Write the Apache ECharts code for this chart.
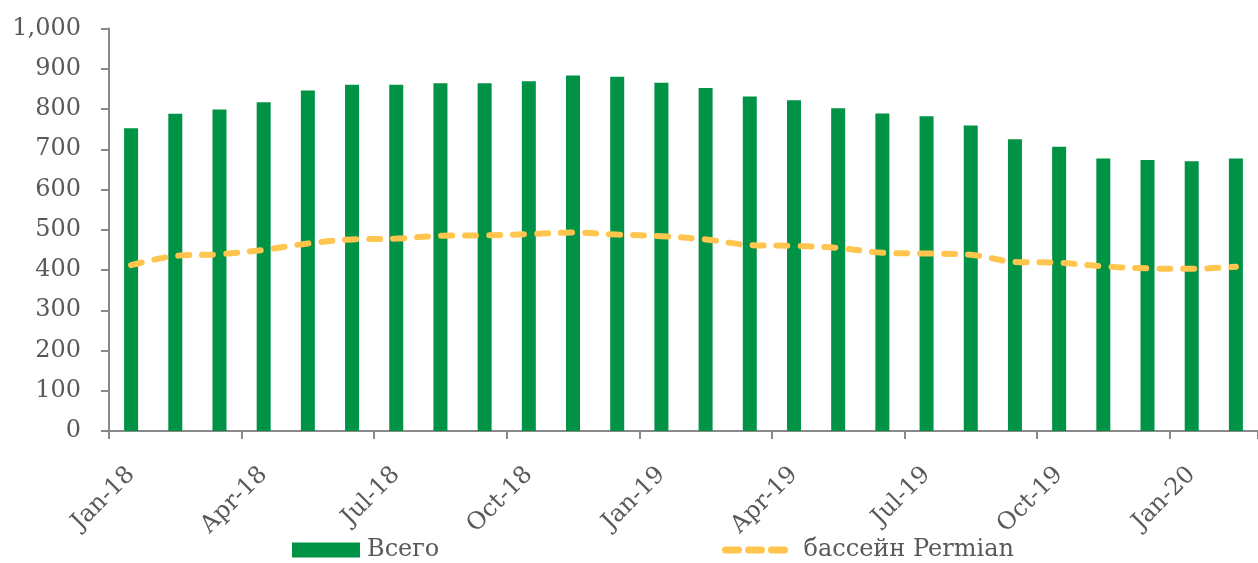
<!DOCTYPE html>
<html>
<head>
<meta charset="utf-8">
<script src="https://cdn.jsdelivr.net/npm/echarts@6/dist/echarts.min.js"></script>
<style>
html,body{margin:0;padding:0;background:#fff;}
#chart{width:1258px;height:563px;}
</style>
</head>
<body>
<div id="chart"></div>
<script>
const categories = ['Jan-18','Feb-18','Mar-18','Apr-18','May-18','Jun-18','Jul-18','Aug-18','Sep-18','Oct-18','Nov-18','Dec-18',
  'Jan-19','Feb-19','Mar-19','Apr-19','May-19','Jun-19','Jul-19','Aug-19','Sep-19','Oct-19','Nov-19','Dec-19',
  'Jan-20','Feb-20'];
const totalValues = [752,788,799,817,846,860,860,864,864,869,883,880,865,852,831,822,802,789,782,759,725,706,677,673,670,677];
const permianValues = [412,435,439,450,466,476,478,485,486,489,493,488,484,476,462,460,455,443,441,438,420,418,409,404,403,408];
const seriesNames = ['Всего','бассейн Permian'];

const FONT = 'DejaVu Serif';
const TXT = '#595959';
const AX = '#898989';

const chart = echarts.init(document.getElementById('chart'));
chart.setOption({
  animation: false,
  backgroundColor: '#ffffff',
  grid: { left: 109, right: -8, top: 28.5, bottom: 132, containLabel: false },
  legend: [
    { data: [{ name: seriesNames[0], icon: 'rect' }], left: 292, top: 538, padding: 0, itemWidth: 68, itemHeight: 15,
      textStyle: { fontFamily: FONT, fontSize: 24, color: TXT, padding: [0,0,0,2] } },
    { data: [seriesNames[1]], left: 722, top: 538, padding: 0, itemWidth: 65, itemHeight: 15,
      itemStyle: { opacity: 0 },
      lineStyle: { width: 7, type: [13,10], cap: 'round', opacity: 1 },
      textStyle: { fontFamily: FONT, fontSize: 24, color: TXT, padding: [0,0,0,8] } }
  ],
  xAxis: {
    type: 'category',
    data: categories,
    boundaryGap: true,
    axisLine: { show: true, lineStyle: { color: AX, width: 2 } },
    axisTick: { show: true, interval: 2, length: 8, lineStyle: { color: AX, width: 2 } },
    axisLabel: { interval: 2, rotate: 45, margin: 40, fontFamily: FONT, fontSize: 24, color: TXT },
    splitLine: { show: false }
  },
  yAxis: {
    type: 'value',
    min: 0, max: 1000, interval: 100,
    axisLine: { show: true, lineStyle: { color: AX, width: 2 } },
    axisTick: { show: true, length: 8, lineStyle: { color: AX, width: 2 } },
    axisLabel: { margin: 28, fontFamily: FONT, fontSize: 24, color: TXT,
      formatter: v => v.toLocaleString('en-US') },
    splitLine: { show: false }
  },
  series: [
    { name: seriesNames[0], type: 'bar', data: totalValues, barWidth: 14,
      itemStyle: { color: '#009245' } },
    { name: seriesNames[1], type: 'line', data: permianValues, smooth: 0.35,
      symbol: 'none', showSymbol: false,
      itemStyle: { color: '#FFC54E' },
      lineStyle: { color: '#FFC54E', width: 6, type: [11,13], cap: 'round' } }
  ]
});
</script>
</body>
</html>
